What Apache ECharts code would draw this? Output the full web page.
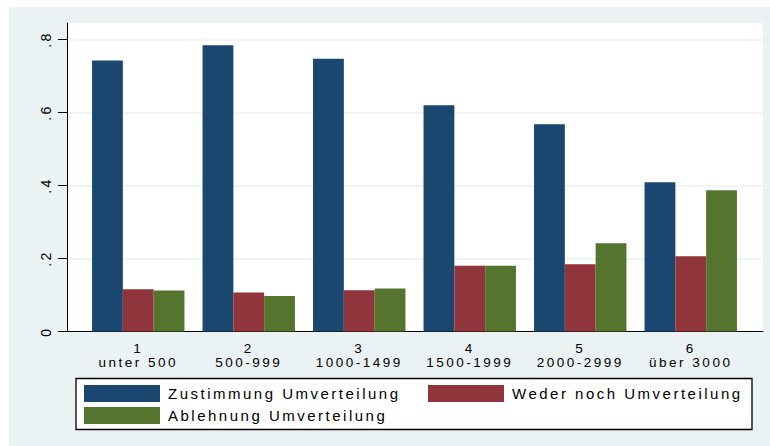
<!DOCTYPE html>
<html>
<head>
<meta charset="utf-8">
<script src="https://cdn.jsdelivr.net/npm/echarts@6/dist/echarts.min.js"></script>
<style>
html, body { margin: 0; padding: 0; background: #fff; }
#chart { width: 770px; height: 446px; }
/* Stata-like wide letter spacing */
#chart text { letter-spacing: 2.5px; }
</style>
</head>
<body>
<div id="chart"></div>
<script>
// data
var categories = ['1\nunter 500', '2\n500-999', '3\n1000-1499', '4\n1500-1999', '5\n2000-2999', '6\nüber 3000']
var zustimmung = [0.742, 0.784, 0.747, 0.620, 0.568, 0.409]
var wederNoch = [0.116, 0.107, 0.113, 0.180, 0.184, 0.206]
var ablehnung = [0.112, 0.097, 0.118, 0.180, 0.242, 0.387]
var yTicks = [0, 0.2, 0.4, 0.6, 0.8]
var seriesNames = ['Zustimmung Umverteilung', 'Weder noch Umverteilung', 'Ablehnung Umverteilung']
var colors = ['#1a476f', '#90353b', '#55752f']

var font = 'Liberation Sans'
var yMax = 0.845

var chart = echarts.init(document.getElementById('chart'), null, { renderer: 'svg' })

var legendBase = {
  padding: 0,
  itemWidth: 76,
  itemHeight: 17,
  icon: 'rect',
  selectedMode: false,
  textStyle: { fontFamily: font, fontSize: 15, color: '#000', padding: [0, 0, 0, 3] }
}

chart.setOption({
  backgroundColor: '#eaf2f3',
  animation: false,
  color: colors,
  graphic: [
    // thin white strips round the outer region
    { type: 'rect', z: 1, shape: { x: 0, y: 0, width: 770, height: 7 }, style: { fill: '#fff' } },
    { type: 'rect', z: 1, shape: { x: 0, y: 0, width: 9, height: 446 }, style: { fill: '#fff' } },
    // legend box
    {
      type: 'rect',
      z: 1,
      shape: { x: 76, y: 378.5, width: 676, height: 51 },
      style: { fill: '#fff', stroke: '#000', lineWidth: 1.3 }
    }
  ],
  legend: [
    Object.assign({ data: [seriesNames[0]], left: 84, top: 385 }, legendBase),
    Object.assign({ data: [seriesNames[1]], left: 428, top: 385 }, legendBase),
    Object.assign({ data: [seriesNames[2]], left: 84, top: 407 }, legendBase)
  ],
  grid: [
    // plot region with y axis
    { left: 67, top: 23, right: 7, bottom: 114.5, show: true, backgroundColor: '#fff', borderWidth: 0 },
    // bars
    { left: 83, top: 23, width: 663, bottom: 114.5 }
  ],
  xAxis: [
    {
      gridIndex: 0,
      type: 'value',
      min: 0,
      max: 1,
      axisLine: { show: true, lineStyle: { color: '#000', width: 1 } },
      axisTick: { show: false },
      axisLabel: { show: false },
      splitLine: { show: false }
    },
    {
      gridIndex: 1,
      type: 'category',
      data: categories,
      axisLine: { show: false },
      axisTick: { show: false },
      axisLabel: {
        fontFamily: font,
        fontSize: 13.5,
        lineHeight: 14,
        color: '#000',
        margin: 10
      }
    }
  ],
  yAxis: [
    {
      gridIndex: 0,
      type: 'value',
      min: 0,
      max: yMax,
      axisLine: { show: true, lineStyle: { color: '#000', width: 1 } },
      axisTick: { show: true, length: 9, customValues: yTicks, lineStyle: { color: '#000' } },
      axisLabel: {
        customValues: yTicks,
        rotate: 90,
        margin: 14,
        fontFamily: font,
        fontSize: 14,
        color: '#000',
        formatter: function (v) {
          return v === 0 ? '0' : String(v).replace(/^0/, '')
        }
      },
      splitLine: { show: true, lineStyle: { color: '#eaf2f3', width: 1.5 } }
    },
    {
      gridIndex: 1,
      type: 'value',
      min: 0,
      max: yMax,
      show: false
    }
  ],
  series: [
    { name: seriesNames[0], type: 'bar', xAxisIndex: 1, yAxisIndex: 1, barWidth: 30.8, barGap: '0%', data: zustimmung },
    { name: seriesNames[1], type: 'bar', xAxisIndex: 1, yAxisIndex: 1, barWidth: 30.8, barGap: '0%', data: wederNoch },
    { name: seriesNames[2], type: 'bar', xAxisIndex: 1, yAxisIndex: 1, barWidth: 30.8, barGap: '0%', data: ablehnung }
  ]
})
</script>
</body>
</html>
